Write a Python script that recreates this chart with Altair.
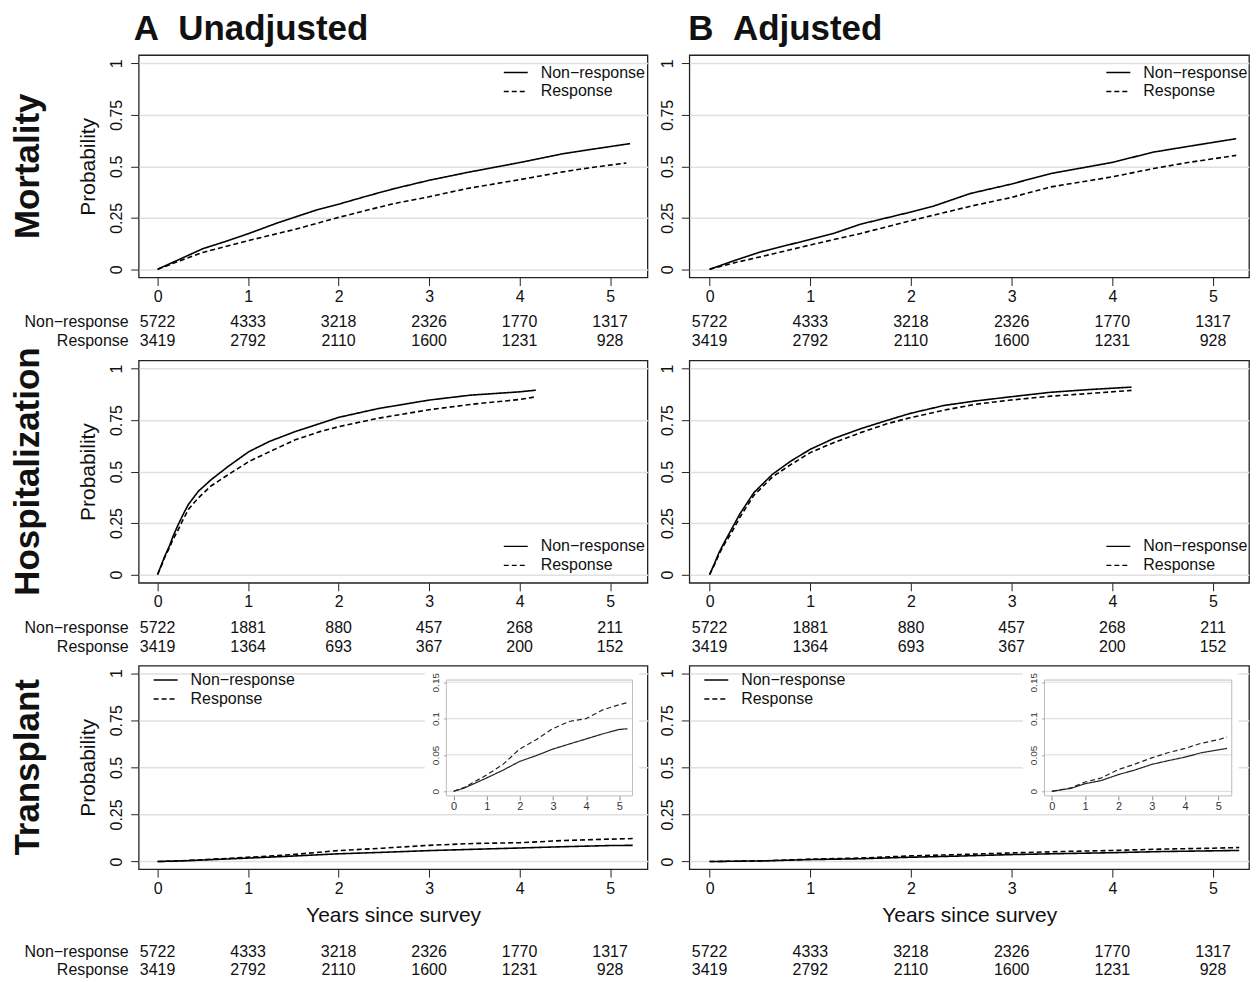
import altair as alt
import pandas as pd

FONT = "Liberation Sans"
NR = "Non\u2212response"
R = "Response"
GROUPS = [NR, R]

# ---------------- data ----------------
# Mortality, unadjusted
MORT_A_T_NR = [0, 0.25, 0.5, 0.75, 1.01, 1.33, 1.75, 2.0, 2.31, 2.6, 3.0, 3.42, 4.0, 4.48, 4.76, 5.22]
MORT_A_NR = [0, 0.05, 0.10, 0.135, 0.174, 0.226, 0.287, 0.316, 0.355, 0.39, 0.432, 0.47, 0.518, 0.561, 0.58, 0.61]
MORT_A_T_R = [0, 0.25, 0.5, 1.0, 1.52, 2.0, 2.58, 3.0, 3.42, 4.0, 4.48, 4.76, 5.18]
MORT_A_R = [0, 0.042, 0.082, 0.139, 0.194, 0.252, 0.316, 0.352, 0.392, 0.435, 0.473, 0.492, 0.516]
# Mortality, adjusted
MORT_B_T_NR = [0, 0.25, 0.51, 1.0, 1.23, 1.5, 1.99, 2.22, 2.59, 2.99, 3.39, 3.99, 4.41, 4.72, 5.23]
MORT_B_NR = [0, 0.043, 0.085, 0.145, 0.174, 0.219, 0.277, 0.306, 0.368, 0.413, 0.465, 0.518, 0.569, 0.594, 0.634]
MORT_B_T_R = [0, 0.25, 0.51, 1.0, 1.5, 1.99, 2.59, 2.99, 3.39, 3.99, 4.41, 4.72, 5.23]
MORT_B_R = [0, 0.032, 0.061, 0.118, 0.174, 0.235, 0.306, 0.348, 0.40, 0.448, 0.489, 0.516, 0.553]
# Hospitalization, unadjusted
HOSP_A_T = [0, 0.04, 0.08, 0.13, 0.17, 0.22, 0.28, 0.34, 0.45, 0.59, 0.78, 1.01, 1.24, 1.52, 1.80, 2.0, 2.44, 3.0, 3.46, 4.0, 4.18]
HOSP_A_NR = [0, 0.045, 0.09, 0.138, 0.185, 0.235, 0.29, 0.34, 0.404, 0.46, 0.525, 0.597, 0.647, 0.694, 0.734, 0.763, 0.806, 0.847, 0.871, 0.887, 0.895]
HOSP_A_R = [0, 0.04, 0.085, 0.13, 0.17, 0.211, 0.265, 0.316, 0.372, 0.43, 0.485, 0.549, 0.597, 0.654, 0.695, 0.718, 0.759, 0.80, 0.826, 0.85, 0.863]
# Hospitalization, adjusted
HOSP_B_T = [0, 0.05, 0.095, 0.15, 0.21, 0.30, 0.44, 0.625, 0.81, 1.0, 1.23, 1.5, 1.76, 1.99, 2.33, 2.63, 2.99, 3.39, 3.77, 4.19]
HOSP_B_NR = [0, 0.055, 0.108, 0.16, 0.213, 0.294, 0.398, 0.487, 0.552, 0.608, 0.66, 0.708, 0.748, 0.782, 0.821, 0.842, 0.863, 0.885, 0.898, 0.91]
HOSP_B_R = [0, 0.05, 0.10, 0.15, 0.197, 0.277, 0.385, 0.474, 0.535, 0.592, 0.64, 0.689, 0.732, 0.761, 0.798, 0.826, 0.847, 0.866, 0.879, 0.894]
# Transplant, unadjusted
TX_A_T = [0, 0.33, 0.98, 1.49, 1.99, 2.49, 2.99, 3.49, 4.0, 4.5, 5.0, 5.25]
TX_A_NR = [0, 0.0046, 0.018, 0.029, 0.041, 0.049, 0.058, 0.065, 0.072, 0.079, 0.085, 0.086]
TX_A_R = [0, 0.0055, 0.022, 0.037, 0.058, 0.071, 0.086, 0.096, 0.10, 0.112, 0.119, 0.122]
# Transplant, adjusted
TX_B_T = [0, 0.57, 1.0, 1.47, 2.0, 2.47, 3.0, 3.48, 4.0, 4.48, 5.0, 5.26]
TX_B_NR = [0, 0.004, 0.0105, 0.0146, 0.023, 0.029, 0.037, 0.042, 0.047, 0.053, 0.057, 0.059]
TX_B_R = [0, 0.0046, 0.0128, 0.018, 0.030, 0.037, 0.046, 0.053, 0.059, 0.066, 0.071, 0.0745]

# Numbers at risk
RISK_T = [0, 1, 2, 3, 4, 5]
MORT_RISK_NR = [5722, 4333, 3218, 2326, 1770, 1317]
MORT_RISK_R = [3419, 2792, 2110, 1600, 1231, 928]
HOSP_RISK_NR = [5722, 1881, 880, 457, 268, 211]
HOSP_RISK_R = [3419, 1364, 693, 367, 200, 152]
TX_RISK_NR = [5722, 4333, 3218, 2326, 1770, 1317]
TX_RISK_R = [3419, 2792, 2110, 1600, 1231, 928]

X_TICKS = [0, 1, 2, 3, 4, 5]
Y_TICKS = [0, 0.25, 0.5, 0.75, 1]
INSET_Y_TICKS = [0, 0.05, 0.1, 0.15]

COL_TITLES = {"A": "A\u00a0\u00a0Unadjusted", "B": "B\u00a0\u00a0Adjusted"}
ROW_TITLES = {1: "Mortality", 2: "Hospitalization", 3: "Transplant"}

# ---------------- layout constants ----------------
W_A, W_B = 510, 561
H_TOP, H_BOT = 223, 204
XDOM_A = [-0.209, 5.413]
XDOM_B = [-0.201, 5.357]
YDOM = [-0.04, 1.04]
INSET_XDOM = [-0.22, 5.4]
INSET_YDOM = [-0.0063, 0.153]
INSET_YRANGE = [130.6, 14.5]
INSET_XRANGE_A = [308.4, 495.0]
INSET_XRANGE_B = [356.0, 543.7]

DASH = alt.Scale(domain=GROUPS, range=[[1, 0], [5, 3]])
GRID = "#e0e0e0"
INK = "#111"


def curve_df(t_nr, v_nr, t_r, v_r):
    return pd.DataFrame({
        "t": list(t_nr) + list(t_r),
        "p": list(v_nr) + list(v_r),
        "g": [NR] * len(t_nr) + [R] * len(t_r),
    })


def main_layer(df, xdom, show_ytitle, show_xtitle, legend):
    x = alt.X("t:Q", scale=alt.Scale(domain=xdom, nice=False, zero=False),
              axis=alt.Axis(values=X_TICKS, format="d", grid=False, domain=False,
                            tickSize=8, tickColor="#222", labelFontSize=16, labelPadding=3,
                            labelColor=INK,
                            title="Years since survey" if show_xtitle else None,
                            titleFontSize=21, titleFontWeight="normal", titlePadding=9,
                            titleColor=INK))
    y = alt.Y("p:Q", scale=alt.Scale(domain=YDOM, nice=False, zero=False),
              axis=alt.Axis(values=Y_TICKS, format=".2~f", grid=True, gridColor=GRID,
                            gridWidth=1.5, domain=False, tickSize=8, tickColor="#222",
                            labelAngle=270, labelFontSize=16, labelPadding=6,
                            labelColor=INK,
                            title="Probability" if show_ytitle else None,
                            titleFontSize=21, titleFontWeight="normal", titlePadding=10,
                            titleColor=INK))
    return alt.Chart(df).mark_line(color="black", strokeWidth=1.6).encode(
        x=x, y=y, strokeDash=alt.StrokeDash("g:N", scale=DASH, legend=legend))


def legend_at(lx, ly):
    return alt.Legend(orient="none", legendX=lx, legendY=ly, title=None,
                      symbolType="stroke", symbolSize=576, symbolStrokeWidth=1.4,
                      symbolStrokeColor="black", labelFontSize=16, labelFont=FONT,
                      labelColor=INK, labelOffset=12, clipHeight=19, rowPadding=0,
                      padding=0, labelLimit=300)


def atrisk_layer(nr, r, xdom, yrange, show_labels):
    df = pd.DataFrame({"t": RISK_T * 2, "n": list(nr) + list(r),
                       "g": [NR] * len(nr) + [R] * len(r)})
    ysc = alt.Scale(type="point", domain=GROUPS, range=yrange, padding=0)
    nums = alt.Chart(df).mark_text(fontSize=16, font=FONT, color=INK,
                                   baseline="middle", align="center").encode(
        x=alt.X("t:Q", scale=alt.Scale(domain=xdom, nice=False, zero=False), axis=None),
        y=alt.Y("g:N", scale=ysc, axis=None),
        text=alt.Text("n:Q", format="d"))
    layers = [nums]
    if show_labels:
        labs = alt.Chart(pd.DataFrame({"g": GROUPS})).mark_text(
            fontSize=16, font=FONT, color=INK, baseline="middle", align="right").encode(
            x=alt.value(-10), y=alt.Y("g:N", scale=ysc, axis=None), text="g:N")
        layers.append(labs)
    return alt.layer(*layers)


def inset_layer(df, xrange, height):
    xs = alt.Scale(domain=INSET_XDOM, range=xrange, nice=False, zero=False)
    ys = alt.Scale(domain=INSET_YDOM, range=INSET_YRANGE, nice=False, zero=False)
    x_axis = alt.Axis(orient="bottom", offset=INSET_YRANGE[0] - height,
                      values=X_TICKS, format="d", grid=False, domain=False,
                      tickSize=4, tickColor="#888", labelFontSize=11,
                      labelPadding=1, labelColor="#333", title=None, zindex=2)
    y_axis = alt.Axis(orient="left", offset=-xrange[0], values=INSET_Y_TICKS,
                      format=".2~f", grid=False, domain=False, tickSize=3,
                      tickColor="#aaa", labelAngle=270, labelFontSize=10,
                      labelPadding=3, labelColor="#333", title=None, zindex=2)
    box = pd.DataFrame({"x0": [INSET_XDOM[0]], "x1": [INSET_XDOM[1]],
                        "y0": [INSET_YDOM[0]], "y1": [INSET_YDOM[1]]})
    bg_box = pd.DataFrame({"x0": [INSET_XDOM[0] - 0.65], "x1": [INSET_XDOM[1] + 0.2],
                           "y0": [INSET_YDOM[0] - 0.022], "y1": [INSET_YDOM[1] + 0.015]})
    bg = alt.Chart(bg_box).mark_rect(fill="white").encode(
        x=alt.X("x0:Q", scale=xs, axis=x_axis), x2="x1:Q",
        y=alt.Y("y0:Q", scale=ys, axis=y_axis), y2="y1:Q")
    grid_df = pd.DataFrame({"v": INSET_Y_TICKS, "x0": INSET_XDOM[0], "x1": INSET_XDOM[1]})
    grid = alt.Chart(grid_df).mark_rule(color=GRID, strokeWidth=1.2).encode(
        x=alt.X("x0:Q", scale=xs, axis=x_axis), x2="x1:Q",
        y=alt.Y("v:Q", scale=ys, axis=y_axis))
    frame = alt.Chart(box).mark_rect(fillOpacity=0, stroke="#bdbdbd", strokeWidth=1).encode(
        x=alt.X("x0:Q", scale=xs, axis=x_axis), x2="x1:Q",
        y=alt.Y("y0:Q", scale=ys, axis=y_axis), y2="y1:Q")
    lines = alt.Chart(df).mark_line(color="#222", strokeWidth=1.2).encode(
        x=alt.X("t:Q", scale=xs, axis=x_axis),
        y=alt.Y("p:Q", scale=ys, axis=y_axis),
        strokeDash=alt.StrokeDash("g:N", scale=DASH, legend=None))
    return alt.layer(bg, grid, frame, lines)


def label_layer(text, x, y, size, angle, align, baseline):
    return alt.Chart(pd.DataFrame({"label": [text]})).mark_text(
        fontSize=size, fontWeight="bold", font=FONT, color=INK, angle=angle,
        align=align, baseline=baseline).encode(
        x=alt.value(x), y=alt.value(y), text="label:N")


def panel(df, nr, r, col, row, legend_xy):
    xdom = XDOM_A if col == "A" else XDOM_B
    W = W_A if col == "A" else W_B
    H = H_BOT if row == 3 else H_TOP
    if row == 3:
        risk_y = [H + 83.5, H + 101.5]
    elif row == 2:
        risk_y = [H + 45.5, H + 64]
    else:
        risk_y = [H + 44.5, H + 63.5]
    layers = [
        main_layer(df, xdom, col == "A", row == 3, legend_at(*legend_xy)),
        atrisk_layer(nr, r, xdom, risk_y, col == "A"),
    ]
    if row == 3:
        layers.append(inset_layer(df, INSET_XRANGE_A if col == "A" else INSET_XRANGE_B, H))
    if col == "A":
        layers.append(label_layer(ROW_TITLES[row], -111, H / 2, 35, 270, "center", "middle"))
    if row == 1:
        layers.append(label_layer(COL_TITLES[col], -5 if col == "A" else -1, -15, 35, 0,
                                  "left", "alphabetic"))
    return alt.layer(*layers).resolve_scale(
        x="independent", y="independent", strokeDash="independent").properties(
        width=W, height=H)


pA1 = panel(curve_df(MORT_A_T_NR, MORT_A_NR, MORT_A_T_R, MORT_A_R), MORT_RISK_NR, MORT_RISK_R,
            "A", 1, (365, 8))
pA2 = panel(curve_df(HOSP_A_T, HOSP_A_NR, HOSP_A_T, HOSP_A_R), HOSP_RISK_NR, HOSP_RISK_R,
            "A", 2, (365, 177))
pA3 = panel(curve_df(TX_A_T, TX_A_NR, TX_A_T, TX_A_R), TX_RISK_NR, TX_RISK_R,
            "A", 3, (14, 5))
pB1 = panel(curve_df(MORT_B_T_NR, MORT_B_NR, MORT_B_T_R, MORT_B_R), MORT_RISK_NR, MORT_RISK_R,
            "B", 1, (417, 8))
pB2 = panel(curve_df(HOSP_B_T, HOSP_B_NR, HOSP_B_T, HOSP_B_R), HOSP_RISK_NR, HOSP_RISK_R,
            "B", 2, (417, 177))
pB3 = panel(curve_df(TX_B_T, TX_B_NR, TX_B_T, TX_B_R), TX_RISK_NR, TX_RISK_R,
            "B", 3, (14, 5))

chart = alt.concat(pA1, pB1, pA2, pB2, pA3, pB3, columns=2, bounds="flush",
                   spacing={"row": 83, "column": 42}).resolve_scale(
    strokeDash="independent").properties(
    padding={"left": 2, "top": 2, "right": 0, "bottom": 0}).configure(font=FONT).configure_view(
    stroke="#222", strokeWidth=1.3).configure_axis(labelFont=FONT, titleFont=FONT)

chart.save("out.html", embed_options={"renderer": "svg", "actions": False})
